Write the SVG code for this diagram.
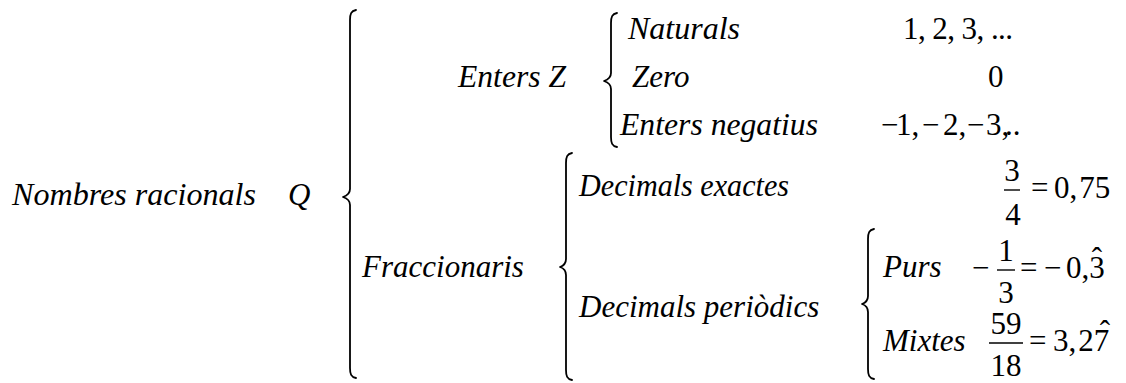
<svg xmlns="http://www.w3.org/2000/svg" width="1126" height="383" viewBox="0 0 1126 383">
<style>
text{font-family:"Liberation Serif","Times New Roman",serif;font-size:31px;fill:#000}
.i{font-style:italic}
.c{text-anchor:middle}
.br{fill:none;stroke:#000;stroke-width:1.8;stroke-linecap:round;stroke-linejoin:round}
.bar{stroke:#000;stroke-width:1.4}
</style>
<rect width="1126" height="383" fill="#fff"/>
<g id="connectors">
<path class="br" d="M356,10 C351,11 350,14 350,20 L350,189 C350,194 346,196 343,197 C346,198 350,200 350,205 L350,368 C350,374 351,377 356,378"/>
<path class="br" d="M617,13 C612,14 611,17 611,23 L611,73 C611,78 607,80 604,81 C607,82 611,84 611,89 L611,137 C611,143 612,146 617,147"/>
<path class="br" d="M572,153 C567,154 566,157 566,163 L566,259 C566,264 563,266 560,267 C563,268 566,270 566,275 L566,370 C566,376 567,379 572,380"/>
<path class="br" d="M874,229 C869,230 868,233 868,239 L868,296 C868,301 865,303 862,304 C865,305 868,307 868,312 L868,369 C868,375 869,378 874,379"/>
</g>
<g id="racionals">
<text class="i" x="12" y="205" textLength="244" lengthAdjust="spacingAndGlyphs">Nombres racionals</text>
<text class="i" x="288" y="205">Q</text>
</g>
<g id="enters">
<text class="i" x="458" y="87" textLength="108" lengthAdjust="spacingAndGlyphs">Enters Z</text>
</g>
<g id="naturals">
<text class="i" x="628" y="39" textLength="112" lengthAdjust="spacingAndGlyphs">Naturals</text>
<text x="903" y="39" textLength="110" lengthAdjust="spacing">1, 2, 3, ...</text>
</g>
<g id="zero">
<text class="i" x="632" y="87">Zero</text>
<text x="988" y="87">0</text>
</g>
<g id="negatius">
<text class="i" x="620" y="135" textLength="198" lengthAdjust="spacingAndGlyphs">Enters negatius</text>
<text y="135"><tspan x="881">−</tspan><tspan x="896">1,</tspan><tspan x="922">−</tspan><tspan x="943">2,</tspan><tspan x="967">−</tspan><tspan x="986">3,</tspan><tspan x="1005">..</tspan></text>
</g>
<g id="fraccionaris">
<text class="i" x="362" y="277">Fraccionaris</text>
</g>
<g id="exactes">
<text class="i" x="579" y="196" textLength="210" lengthAdjust="spacingAndGlyphs">Decimals exactes</text>
<text class="c" x="1012" y="181">3</text>
<line class="bar" x1="1004" y1="190" x2="1020" y2="190"/>
<text class="c" x="1013" y="225">4</text>
<text x="1031" y="198">=</text>
<text x="1054" y="198">0,<tspan dx="2">75</tspan></text>
</g>
<g id="periodics">
<text class="i" x="579" y="317">Decimals periòdics</text>
</g>
<g id="purs">
<text class="i" x="883" y="277">Purs</text>
<text x="972" y="278">−</text>
<text class="c" x="1006" y="261">1</text>
<line class="bar" x1="997" y1="270" x2="1015" y2="270"/>
<text class="c" x="1006" y="303">3</text>
<text x="1020" y="278">=</text>
<text x="1044" y="278">−</text>
<text x="1066" y="278">0,3</text>
<text class="c" x="1097" y="269">ˆ</text>
</g>
<g id="mixtes">
<text class="i" x="883" y="351">Mixtes</text>
<text class="c" x="1006" y="334">59</text>
<line class="bar" x1="989" y1="343" x2="1023" y2="343"/>
<text class="c" x="1006" y="376">18</text>
<text x="1029" y="351">=</text>
<text x="1053" y="351">3,<tspan dx="2">27</tspan></text>
<text class="c" x="1105" y="342">ˆ</text>
</g>
</svg>
